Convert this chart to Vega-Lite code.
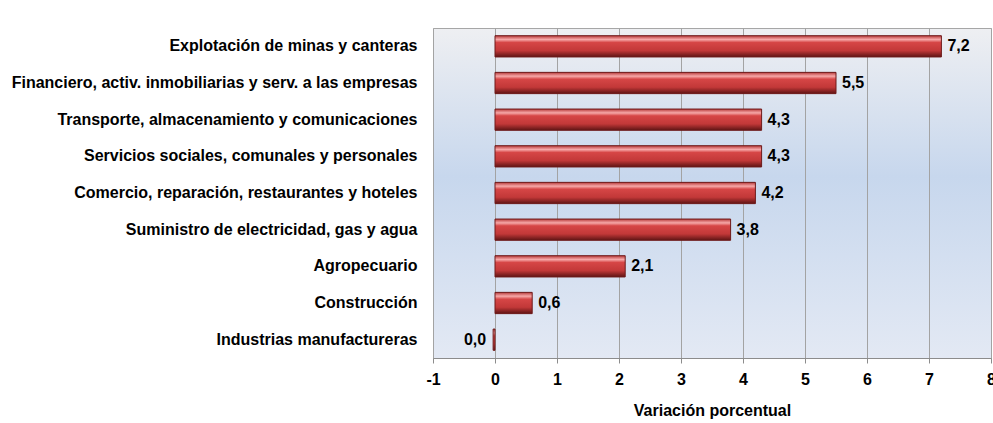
{
  "$schema": "https://vega.github.io/schema/vega-lite/v6.json",
  "width": 558,
  "height": 330,
  "autosize": {"type": "none"},
  "padding": {"left": 433, "top": 28, "right": 2, "bottom": 65},
  "background": "white",
  "config": {
    "font": "Liberation Sans",
    "view": {
      "stroke": "#a6a6a6",
      "strokeWidth": 1,
      "fill": {
        "gradient": "linear", "x1": 0, "y1": 0, "x2": 0, "y2": 1,
        "stops": [
          {"offset": 0, "color": "#eeeff2"},
          {"offset": 0.45, "color": "#c7d7ed"},
          {"offset": 1, "color": "#e3e9f4"}
        ]
      }
    }
  },
  "data": {
    "values": [
      {"cat": "Explotación de minas y canteras", "v": 7.2, "lab": "7,2"},
      {"cat": "Financiero, activ. inmobiliarias y serv. a las empresas", "v": 5.5, "lab": "5,5"},
      {"cat": "Transporte, almacenamiento  y comunicaciones", "v": 4.3, "lab": "4,3"},
      {"cat": "Servicios sociales, comunales y personales", "v": 4.3, "lab": "4,3"},
      {"cat": "Comercio, reparación, restaurantes  y hoteles", "v": 4.2, "lab": "4,2"},
      {"cat": "Suministro de electricidad, gas y agua", "v": 3.8, "lab": "3,8"},
      {"cat": "Agropecuario", "v": 2.1, "lab": "2,1"},
      {"cat": "Construcción", "v": 0.6, "lab": "0,6"},
      {"cat": "Industrias manufactureras", "v": -0.03, "lab": "0,0"}
    ]
  },
  "encoding": {
    "y": {
      "field": "cat", "type": "nominal", "sort": null,
      "scale": {"paddingInner": 0.42, "paddingOuter": 0.21},
      "axis": {
        "title": null, "domain": false, "ticks": false,
        "labelPadding": 16, "labelFontSize": 16, "labelFontWeight": "bold",
        "labelColor": "#000000", "labelLimit": 600
      }
    },
    "x": {
      "field": "v", "type": "quantitative",
      "scale": {"domain": [-1, 8], "nice": false, "zero": false},
      "axis": {
        "title": "Variación porcentual", "values": [-1, 0, 1, 2, 3, 4, 5, 6, 7, 8],
        "labelExpr": "'' + datum.value",
        "grid": true, "gridColor": "#a3a3a3", "gridWidth": 1,
        "domain": true, "domainColor": "#8c8c8c",
        "ticks": true, "tickSize": 5, "tickColor": "#8c8c8c",
        "labelFontSize": 16, "labelFontWeight": "bold", "labelColor": "#000000",
        "labelPadding": 8, "labelFlush": false,
        "titleFontSize": 16, "titleFontWeight": "bold", "titleColor": "#000000",
        "titlePadding": 15
      }
    }
  },
  "layer": [
    {
      "mark": {
        "type": "bar",
        "x2": {"expr": "scale('x', 0)"},
        "stroke": "#6e1a1a",
        "strokeWidth": 1,
        "color": {
          "gradient": "linear", "x1": 0, "y1": 0, "x2": 0, "y2": 1,
          "stops": [
            {"offset": 0, "color": "#b83a3a"},
            {"offset": 0.18, "color": "#f6a8a8"},
            {"offset": 0.32, "color": "#d64646"},
            {"offset": 0.7, "color": "#c23838"},
            {"offset": 1, "color": "#5e1414"}
          ]
        }
      }
    },
    {
      "mark": {
        "type": "text",
        "fontSize": 16,
        "fontWeight": "bold",
        "color": "#000000",
        "align": {"expr": "datum.v < 0 ? 'right' : 'left'"},
        "dx": {"expr": "datum.v < 0 ? -7 : 6"},
        "baseline": "middle"
      },
      "encoding": {"text": {"field": "lab"}}
    }
  ]
}
